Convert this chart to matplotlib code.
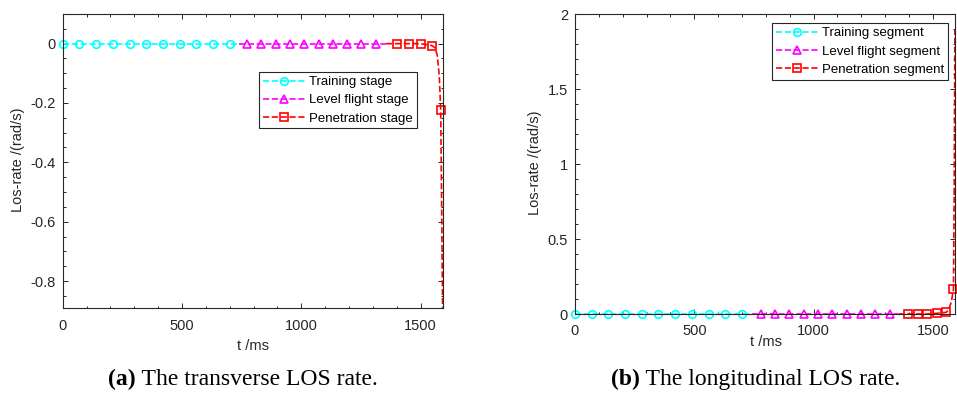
import matplotlib
matplotlib.use('Agg')
import matplotlib.pyplot as plt
from matplotlib.ticker import MultipleLocator

# --- данные (a): поперечная скорость LOS ---
t_train_a = [0, 70, 140, 210, 280, 350, 420, 490, 560, 630, 700, 740]
y_train_a = [0, 0, 0, 0, 0, 0, 0, 0, 0, 0, 0, 0]
t_level_a = [740, 772, 832, 892, 952, 1012, 1072, 1132, 1192, 1252, 1312, 1355]
y_level_a = [0, 0, 0, 0, 0, 0, 0, 0, 0, 0, 0, 0]
t_pen_a = [1355, 1399, 1450, 1500, 1548, 1560, 1570, 1578, 1584, 1588, 1592]
y_pen_a = [0, 0, 0, 0, -0.007, -0.014, -0.04, -0.11, -0.222, -0.55, -0.892]
mk_pen_a = [1, 2, 3, 4, 8]
yticks_a = [0, -0.2, -0.4, -0.6, -0.8]
yticklabels_a = ['0', '-0.2', '-0.4', '-0.6', '-0.8']

# --- данные (b): продольная скорость LOS ---
t_train_b = [0, 70, 140, 210, 280, 350, 420, 490, 560, 630, 700, 740]
y_train_b = [0, 0, 0, 0, 0, 0, 0, 0, 0, 0, 0, 0]
t_level_b = [740, 778, 838, 898, 958, 1018, 1078, 1138, 1198, 1258, 1318, 1355]
y_level_b = [0, 0, 0, 0, 0, 0, 0, 0, 0, 0, 0, 0]
t_pen_b = [1355, 1395, 1437, 1476, 1517, 1556, 1566, 1577, 1586, 1589, 1592]
y_pen_b = [0, 0, 0, 0, 0.005, 0.011, 0.03, 0.08, 0.165, 0.8, 1.9]
mk_pen_b = [1, 2, 3, 4, 5, 8]
yticks_b = [0, 0.5, 1, 1.5, 2]
yticklabels_b = ['0', '0.5', '1', '1.5', '2']

xticks = [0, 500, 1000, 1500]
labels_a = ['Training stage', 'Level flight stage', 'Penetration stage']
labels_b = ['Training segment', 'Level flight segment', 'Penetration segment']

plt.rcParams['font.family'] = ['Liberation Sans', 'DejaVu Sans']
plt.rcParams['font.size'] = 10.5

fig = plt.figure(figsize=(9.57, 3.94), dpi=100)
ax1 = fig.add_axes([0.0655, 0.2175, 0.397, 0.747])
ax2 = fig.add_axes([0.6008, 0.203, 0.397, 0.761])

def draw_panel(ax, tr, yr, tl, yl, tp, yp, mkp, labels):
    style = dict(linestyle='--', linewidth=1.2, markersize=5.5,
                 markerfacecolor='none', markeredgewidth=1.2, clip_on=False)
    ax.plot(tr, yr, color='cyan', marker='o', markevery=list(range(11)),
            label=labels[0], **style)
    ax.plot(tl, yl, color='magenta', marker='^', markevery=list(range(1, 11)),
            label=labels[1], **style)
    ax.plot(tp, yp, color='red', marker='s', markevery=mkp,
            label=labels[2], **style)
    ax.set_xlim(0, 1592)
    ax.set_xticks(xticks)
    ax.xaxis.set_minor_locator(MultipleLocator(100))
    ax.tick_params(which='both', direction='in', top=True, right=True,
                   colors='#262626', labelcolor='#262626', width=0.7)
    ax.tick_params(which='major', length=3.4, labelsize=10.5)
    ax.tick_params(which='minor', length=1.8)
    for sp in ax.spines.values():
        sp.set_color('#262626')
        sp.set_linewidth(0.8)
    ax.set_xlabel('t /ms', color='#262626')
    ax.set_ylabel('Los-rate /(rad/s)', color='#262626')
    ax.xaxis.label.set_verticalalignment('center')
    ax.yaxis.label.set_verticalalignment('center')

draw_panel(ax1, t_train_a, y_train_a, t_level_a, y_level_a,
           t_pen_a, y_pen_a, mk_pen_a, labels_a)
ax1.set_ylim(-0.892, 0.1)
ax1.set_yticks(yticks_a)
ax1.set_yticklabels(yticklabels_a)
ax1.yaxis.set_minor_locator(MultipleLocator(0.05))
ax1.xaxis.set_label_coords(0.5, -0.128)
ax1.yaxis.set_label_coords(-0.118, 0.504)
ax1.tick_params(axis='x', which='major', pad=8)
ax1.tick_params(axis='y', which='major', pad=5)

draw_panel(ax2, t_train_b, y_train_b, t_level_b, y_level_b,
           t_pen_b, y_pen_b, mk_pen_b, labels_b)
ax2.set_ylim(0, 2)
ax2.set_yticks(yticks_b)
ax2.set_yticklabels(yticklabels_b)
ax2.yaxis.set_minor_locator(MultipleLocator(0.1))
ax2.xaxis.set_label_coords(0.504, -0.093)
ax2.yaxis.set_label_coords(-0.105, 0.503)
ax2.tick_params(axis='x', which='major', pad=7)
ax2.tick_params(axis='y', which='major', pad=5)

# легенды в стиле MATLAB
for ax, anchor in [(ax1, (0.932, 0.803)), (ax2, (0.9816, 0.97))]:
    leg = ax.legend(loc='upper right', bbox_to_anchor=anchor, borderaxespad=0,
                    fontsize=9.5, fancybox=False, framealpha=1,
                    handlelength=3.2, handletextpad=0.3, labelspacing=0.45,
                    borderpad=0.3)
    leg.get_frame().set_edgecolor('#262626')
    leg.get_frame().set_linewidth(0.8)

# подписи под панелями
for cx, letter, rest in [(108, '(a)', ' The transverse LOS rate.'),
                         (610.7, '(b)', ' The longitudinal LOS rate.')]:
    t1 = fig.text(cx / 957, 1 - 385 / 394, letter, fontsize=17,
                  family=['Liberation Serif', 'DejaVu Serif'], weight='bold',
                  va='baseline', ha='left')
    ax1.annotate(rest, xy=(1, 0), xycoords=t1, va='bottom', ha='left',
                 fontsize=17, family=['Liberation Serif', 'DejaVu Serif'],
                 annotation_clip=False)

fig.savefig('out.png', dpi=100)
